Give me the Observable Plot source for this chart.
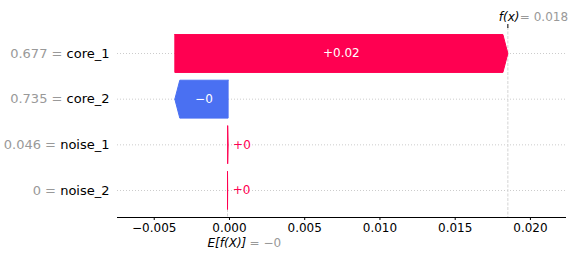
<!DOCTYPE html>
<html>
<head>
<meta charset="utf-8">
<script src="https://cdn.jsdelivr.net/npm/d3@7"></script>
<script src="https://cdn.jsdelivr.net/npm/@observablehq/plot@0.6"></script>
<style>
  html, body { margin: 0; padding: 0; background: #fff; }
  svg { font-family: "DejaVu Sans", sans-serif; }
</style>
</head>
<body>
<div id="chart"></div>
<script>
// ---- data ----
const features = ["core_1", "core_2", "noise_1", "noise_2"];
const featureValues = ["0.677", "0.735", "0.046", "0"];
const shapValues = [0.02213, -0.00354, 0.00003, 0.00001];
const baseValue = -0.00013;
const xTicks = [-0.005, 0, 0.005, 0.010, 0.015, 0.020];
const xDomain = [-0.00744, 0.02233];

// ---- styling constants ----
const POS = "#ff0051", NEG = "#4a70f2", GRAY = "#999999";
const halfH = 0.415;        // half bar height in row units
const headLen = 0.00033;    // arrow head length in x units

// ---- derived bars (waterfall accumulates from bottom row up) ----
const bars = [];
let acc = baseValue;
for (let i = features.length - 1; i >= 0; i--) {
  const start = acc, end = acc + shapValues[i];
  bars.push({i, start, end, value: shapValues[i]});
  acc = end;
}
const fx = acc;
const polyPts = [];
for (const b of bars) {
  const dir = Math.sign(b.end - b.start) || 1;
  const hl = Math.min(headLen, Math.abs(b.end - b.start));
  const neck = b.end - dir * hl;
  const pts = [
    [b.start, b.i - halfH], [neck, b.i - halfH], [b.end, b.i],
    [neck, b.i + halfH], [b.start, b.i + halfH], [b.start, b.i - halfH]
  ];
  for (const [x, y] of pts) polyPts.push({key: b.i, x, y, pos: b.value >= 0});
}
const strip = s => s.replace(/\.?0+$/, "");
const fmtBar = v => (v < 0 ? "\u2212" : "+") + strip(d3.format(".2f")(Math.abs(v)));
const fmtVal = v => (v < 0 ? "\u2212" : "") + strip(d3.format(".3f")(Math.abs(v)));
const inside = bars.filter(b => Math.abs(b.value) > 0.002).map(b => {
  const dir = Math.sign(b.end - b.start);
  const neck = b.end - dir * headLen;
  return {...b, cx: b.value >= 0 ? (b.start + b.end) / 2 : (b.start + neck) / 2};
});
const outside = bars.filter(b => Math.abs(b.value) <= 0.002);
const rows = features.map((_, i) => i);

const chart = Plot.plot({
  width: 571,
  height: 258,
  marginLeft: 117,
  marginRight: 6,
  marginTop: 27,
  marginBottom: 41,
  style: {fontFamily: "DejaVu Sans, sans-serif", fontSize: "12px", background: "white"},
  x: {domain: xDomain},
  y: {domain: [3.591, -0.569]},
  marks: [
    Plot.ruleY(rows, {y: d => d, stroke: "#cccccc", strokeDasharray: "1,2", strokeWidth: 1}),
    Plot.ruleX([fx], {x: d => d, stroke: "#d4d4d4", strokeDasharray: "3,1.5", strokeWidth: 1}),
    Plot.ruleX([baseValue], {x: d => d, y1: 3 + halfH, y2: 3.591, stroke: "#d4d4d4", strokeDasharray: "3,1.5"}),
    Plot.line(polyPts.filter(d => d.pos), {x: "x", y: "y", z: "key", fill: POS, stroke: POS, strokeWidth: 1, curve: "linear"}),
    Plot.line(polyPts.filter(d => !d.pos), {x: "x", y: "y", z: "key", fill: NEG, stroke: NEG, strokeWidth: 1, curve: "linear"}),
    Plot.text(inside, {x: "cx", y: "i", text: d => fmtBar(d.value), fill: "white", fontSize: 12}),
    Plot.text(outside, {x: "end", y: "i", text: d => fmtBar(d.value), fill: POS, fontSize: 12, textAnchor: "start", dx: 5}),
    Plot.frame({anchor: "bottom", stroke: "black"}),
    Plot.axisX(xTicks, {anchor: "bottom", tickSize: 3, tickPadding: 3, tickFormat: d3.format(".3f"), fontSize: 12, label: null}),
    Plot.axisX([fx], {anchor: "top", tickSize: 4, tickFormat: () => "", label: null}),
    Plot.axisY(rows, {anchor: "left", tickSize: 0, tickPadding: 8, tickFormat: i => features[i], fontSize: 13, label: null}),
    Plot.text([fx], {x: d => d, frameAnchor: "top", dy: -15, dx: -9, textAnchor: "start", text: () => "f(x)", fontStyle: "italic", fontSize: 12, fill: "black"}),
    Plot.text([fx], {x: d => d, frameAnchor: "top", dy: -15, dx: 12, textAnchor: "start", text: d => "= " + fmtVal(d), fontSize: 12, fill: GRAY}),
    Plot.text([baseValue], {x: d => d, frameAnchor: "bottom", dy: 29, dx: -20, textAnchor: "start", text: () => "E[f(X)]", fontStyle: "italic", fontSize: 12, fill: "black"}),
    Plot.text([baseValue], {x: d => d, frameAnchor: "bottom", dy: 29, dx: 22, textAnchor: "start", text: d => "= " + fmtVal(d), fontSize: 12, fill: GRAY})
  ]
});
document.getElementById("chart").appendChild(chart);

// two-tone y tick labels: gray "value =" then black feature name
d3.select(chart).selectAll('g[aria-label="y-axis tick label"] text').each(function() {
  const t = d3.select(this);
  const name = t.text();
  const idx = features.indexOf(name);
  if (idx < 0) return;
  t.text(null).attr("fill", null);
  t.append("tspan").attr("fill", GRAY).text(featureValues[idx] + " = ");
  t.append("tspan").attr("fill", "black").text(name);
});
</script>
</body>
</html>
